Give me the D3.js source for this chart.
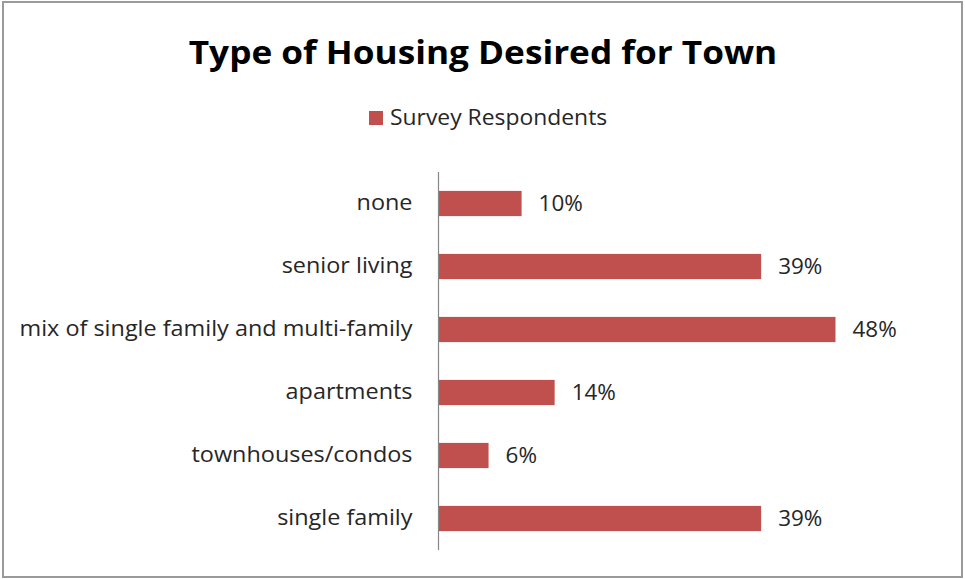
<!DOCTYPE html>
<html>
<head>
<meta charset="utf-8">
<script src="https://cdn.jsdelivr.net/npm/d3@7"></script>
<style>
  html, body { margin: 0; padding: 0; background: #fff; }
  svg { display: block; }
</style>
</head>
<body>
<script>
// Housing preference survey: share of respondents per housing type
const categories = ["none", "senior living", "mix of single family and multi-family", "apartments", "townhouses/condos", "single family"];
const values = [10, 39, 48, 14, 6, 39];
const seriesName = "Survey Respondents";
const chartTitle = "Type of Housing Desired for Town";

const W = 965, H = 579;
const font = "'Open Sans', Lato, sans-serif";
const barColor = "#C0504D";
const textColor = "#262626";

// widen glyphs horizontally about each text's own anchor point
function widen(sel, sx) {
  sel.attr("transform", function () {
    const tx = +this.getAttribute("x") || 0;
    const ty = +this.getAttribute("y") || 0;
    return `translate(${tx},${ty}) scale(${sx},1) translate(${-tx},${-ty})`;
  });
}

const svg = d3.select("body").append("svg")
  .attr("width", W).attr("height", H);

// outer frame
svg.append("rect")
  .attr("x", 3).attr("y", 2)
  .attr("width", 959).attr("height", 575)
  .attr("fill", "#fff")
  .attr("stroke", "#9a9a9a").attr("stroke-width", 2);

// title
svg.append("text")
  .attr("x", 483).attr("y", 64)
  .attr("text-anchor", "middle")
  .attr("font-family", font)
  .attr("font-weight", "bold")
  .attr("font-size", 32)
  .attr("fill", "#000")
  .text(chartTitle)
  .call(widen, 1.10);

// legend
const legend = svg.append("g");
legend.append("rect")
  .attr("x", 369).attr("y", 111)
  .attr("width", 14).attr("height", 14)
  .attr("fill", barColor);
legend.append("text")
  .attr("x", 390).attr("y", 118)
  .attr("dy", "0.35em")
  .attr("font-family", font)
  .attr("font-size", 21)
  .attr("fill", textColor)
  .text(seriesName)
  .call(widen, 1.09);

// plot area
const plotLeft = 439, plotRight = 852, plotTop = 172, plotBottom = 550;

const x = d3.scaleLinear().domain([0, 50]).range([plotLeft, plotRight]);
const y = d3.scaleBand().domain(categories).range([plotTop, plotBottom]).paddingInner(0.6).paddingOuter(0.3);

// bars
svg.append("g").selectAll("rect")
  .data(categories)
  .join("rect")
  .attr("x", x(0))
  .attr("y", d => y(d))
  .attr("width", (d, i) => x(values[i]) - x(0))
  .attr("height", y.bandwidth())
  .attr("fill", barColor);

// value labels
svg.append("g").selectAll("text")
  .data(categories)
  .join("text")
  .attr("x", (d, i) => x(values[i]) + 17)
  .attr("y", d => y(d) + y.bandwidth() / 2)
  .attr("dy", "0.35em")
  .attr("font-family", font)
  .attr("font-size", 21)
  .attr("fill", textColor)
  .text((d, i) => values[i] + "%")
  .call(widen, 1.07);

// category axis
const yAxis = d3.axisLeft(y).tickSize(0).tickPadding(26);
const ax = svg.append("g")
  .attr("transform", `translate(${plotLeft - 0.5},0)`)
  .call(yAxis);
ax.select(".domain").attr("stroke", "#868686").attr("stroke-width", 1.2)
  .attr("d", `M0,${plotTop}V${plotBottom}`);
ax.selectAll(".tick text")
  .attr("font-family", font)
  .attr("font-size", 21)
  .attr("fill", textColor)
  .call(widen, 1.115);
</script>
</body>
</html>
